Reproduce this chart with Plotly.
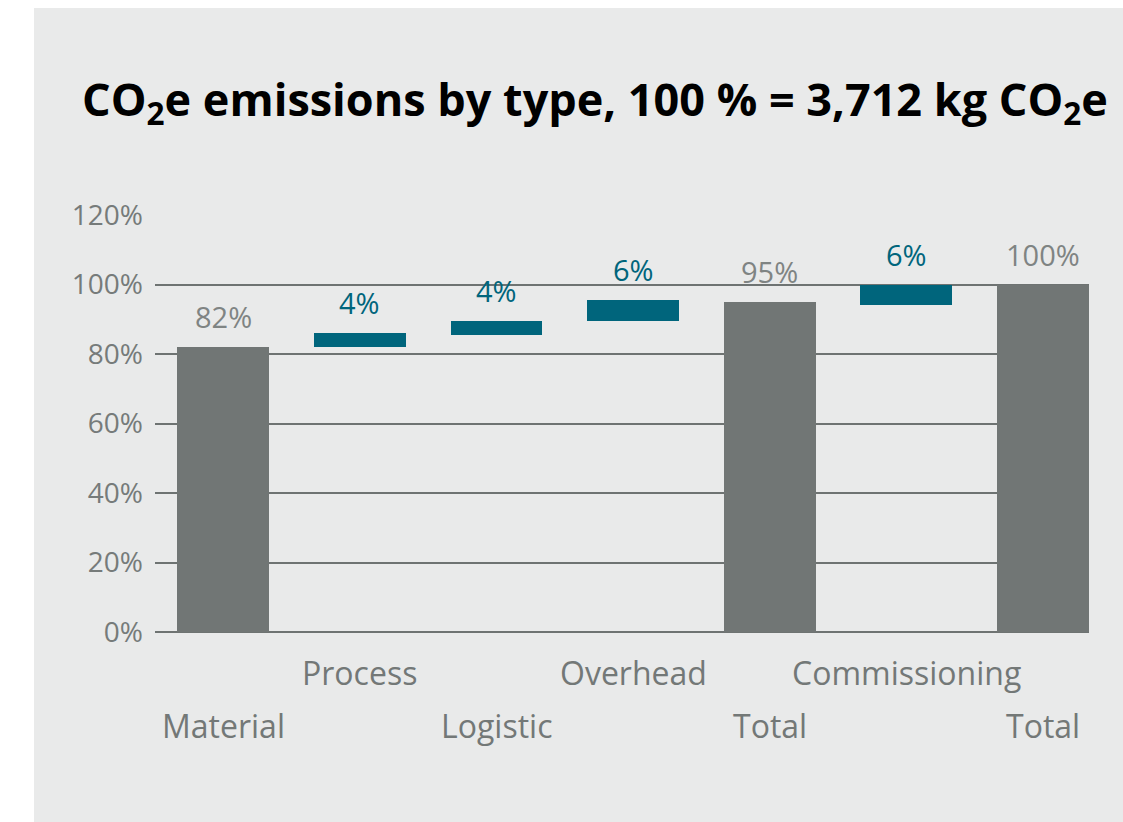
import plotly.graph_objects as go

# Emission categories and their shares (% of total CO2e)
categories = ["Material", "Process", "Logistic", "Overhead", "Total", "Commissioning", "Total "]
values = [82, 4, 4, 6, 95, 6, 100]
bases = [0, 82, 85.5, 89.5, 0, 94, 0]
is_total = [True, False, False, False, True, False, True]
label_row = [1, 0, 1, 0, 1, 0, 1]  # 0 = upper row, 1 = lower row of category labels

y_ticks = [0, 20, 40, 60, 80, 100, 120]
y_ticktext = [f"{t}%" for t in y_ticks]

GRAY_BAR = "#717675"
TEAL = "#00657c"
BG = "#e9eaea"
GRID = "#6e7372"
TICK_TXT = "#767b7a"
LABEL_TOTAL = "#7f8483"
FONT = "Open Sans"

W, H = 1123, 822
L, R, T, B = 155, 34, 215, 190

colors = [GRAY_BAR if t else TEAL for t in is_total]

fig = go.Figure()
fig.add_trace(go.Bar(
    x=categories,
    y=values,
    base=bases,
    marker=dict(color=colors, line=dict(width=0)),
    width=0.673,
    hoverinfo="skip",
))

annotations = []
# value labels above each bar
for cat, v, b, tot in zip(categories, values, bases, is_total):
    annotations.append(dict(
        x=cat, y=b + v, xref="x", yref="y",
        text=f"{v}%", showarrow=False,
        yanchor="bottom", yshift=9,
        font=dict(family=FONT, size=29, color=LABEL_TOTAL if tot else TEAL),
    ))
# staggered category labels under the axis
for cat, row in zip(categories, label_row):
    annotations.append(dict(
        x=cat, y=0, xref="x", yref="paper",
        text=cat.strip(), showarrow=False,
        yanchor="middle", yshift=-40 if row == 0 else -93,
        font=dict(family=FONT, size=32, color="#737877"),
    ))

pw = W - L - R
ph = H - T - B
fig.update_layout(
    width=W, height=H,
    margin=dict(l=L, r=R, t=T, b=B, pad=0),
    paper_bgcolor="white",
    plot_bgcolor=BG,
    showlegend=False,
    bargap=0,
    title=dict(
        text="CO<sub>2</sub>e emissions by type, 100 % = 3,712 kg CO<sub>2</sub>e",
        x=595 / W, xanchor="center", xref="container",
        y=1 - 100 / H, yanchor="middle", yref="container",
        font=dict(family=FONT, size=45, color="black", weight="bold"),
    ),
    xaxis=dict(
        range=[-0.5, 6.337],
        showticklabels=False, showgrid=False, zeroline=False,
        showline=False, ticks="",
        fixedrange=True,
    ),
    yaxis=dict(
        range=[0, 120],
        tickvals=y_ticks, ticktext=y_ticktext,
        showgrid=True, gridcolor=GRID, gridwidth=1.6,
        zeroline=True, zerolinecolor=GRID, zerolinewidth=1.6,
        showline=False, ticks="",
        tickfont=dict(family=FONT, size=28, color=TICK_TXT),
        ticklabelstandoff=11,
        fixedrange=True,
    ),
    annotations=annotations,
    shapes=[dict(
        type="rect", xref="paper", yref="paper",
        x0=(34 - L) / pw, x1=(W - L) / pw,
        y0=-B / ph, y1=(H - 8 - B) / ph,
        fillcolor=BG, line=dict(width=0), layer="below",
    )],
)

fig.write_html("out.html", config={"displayModeBar": False})
